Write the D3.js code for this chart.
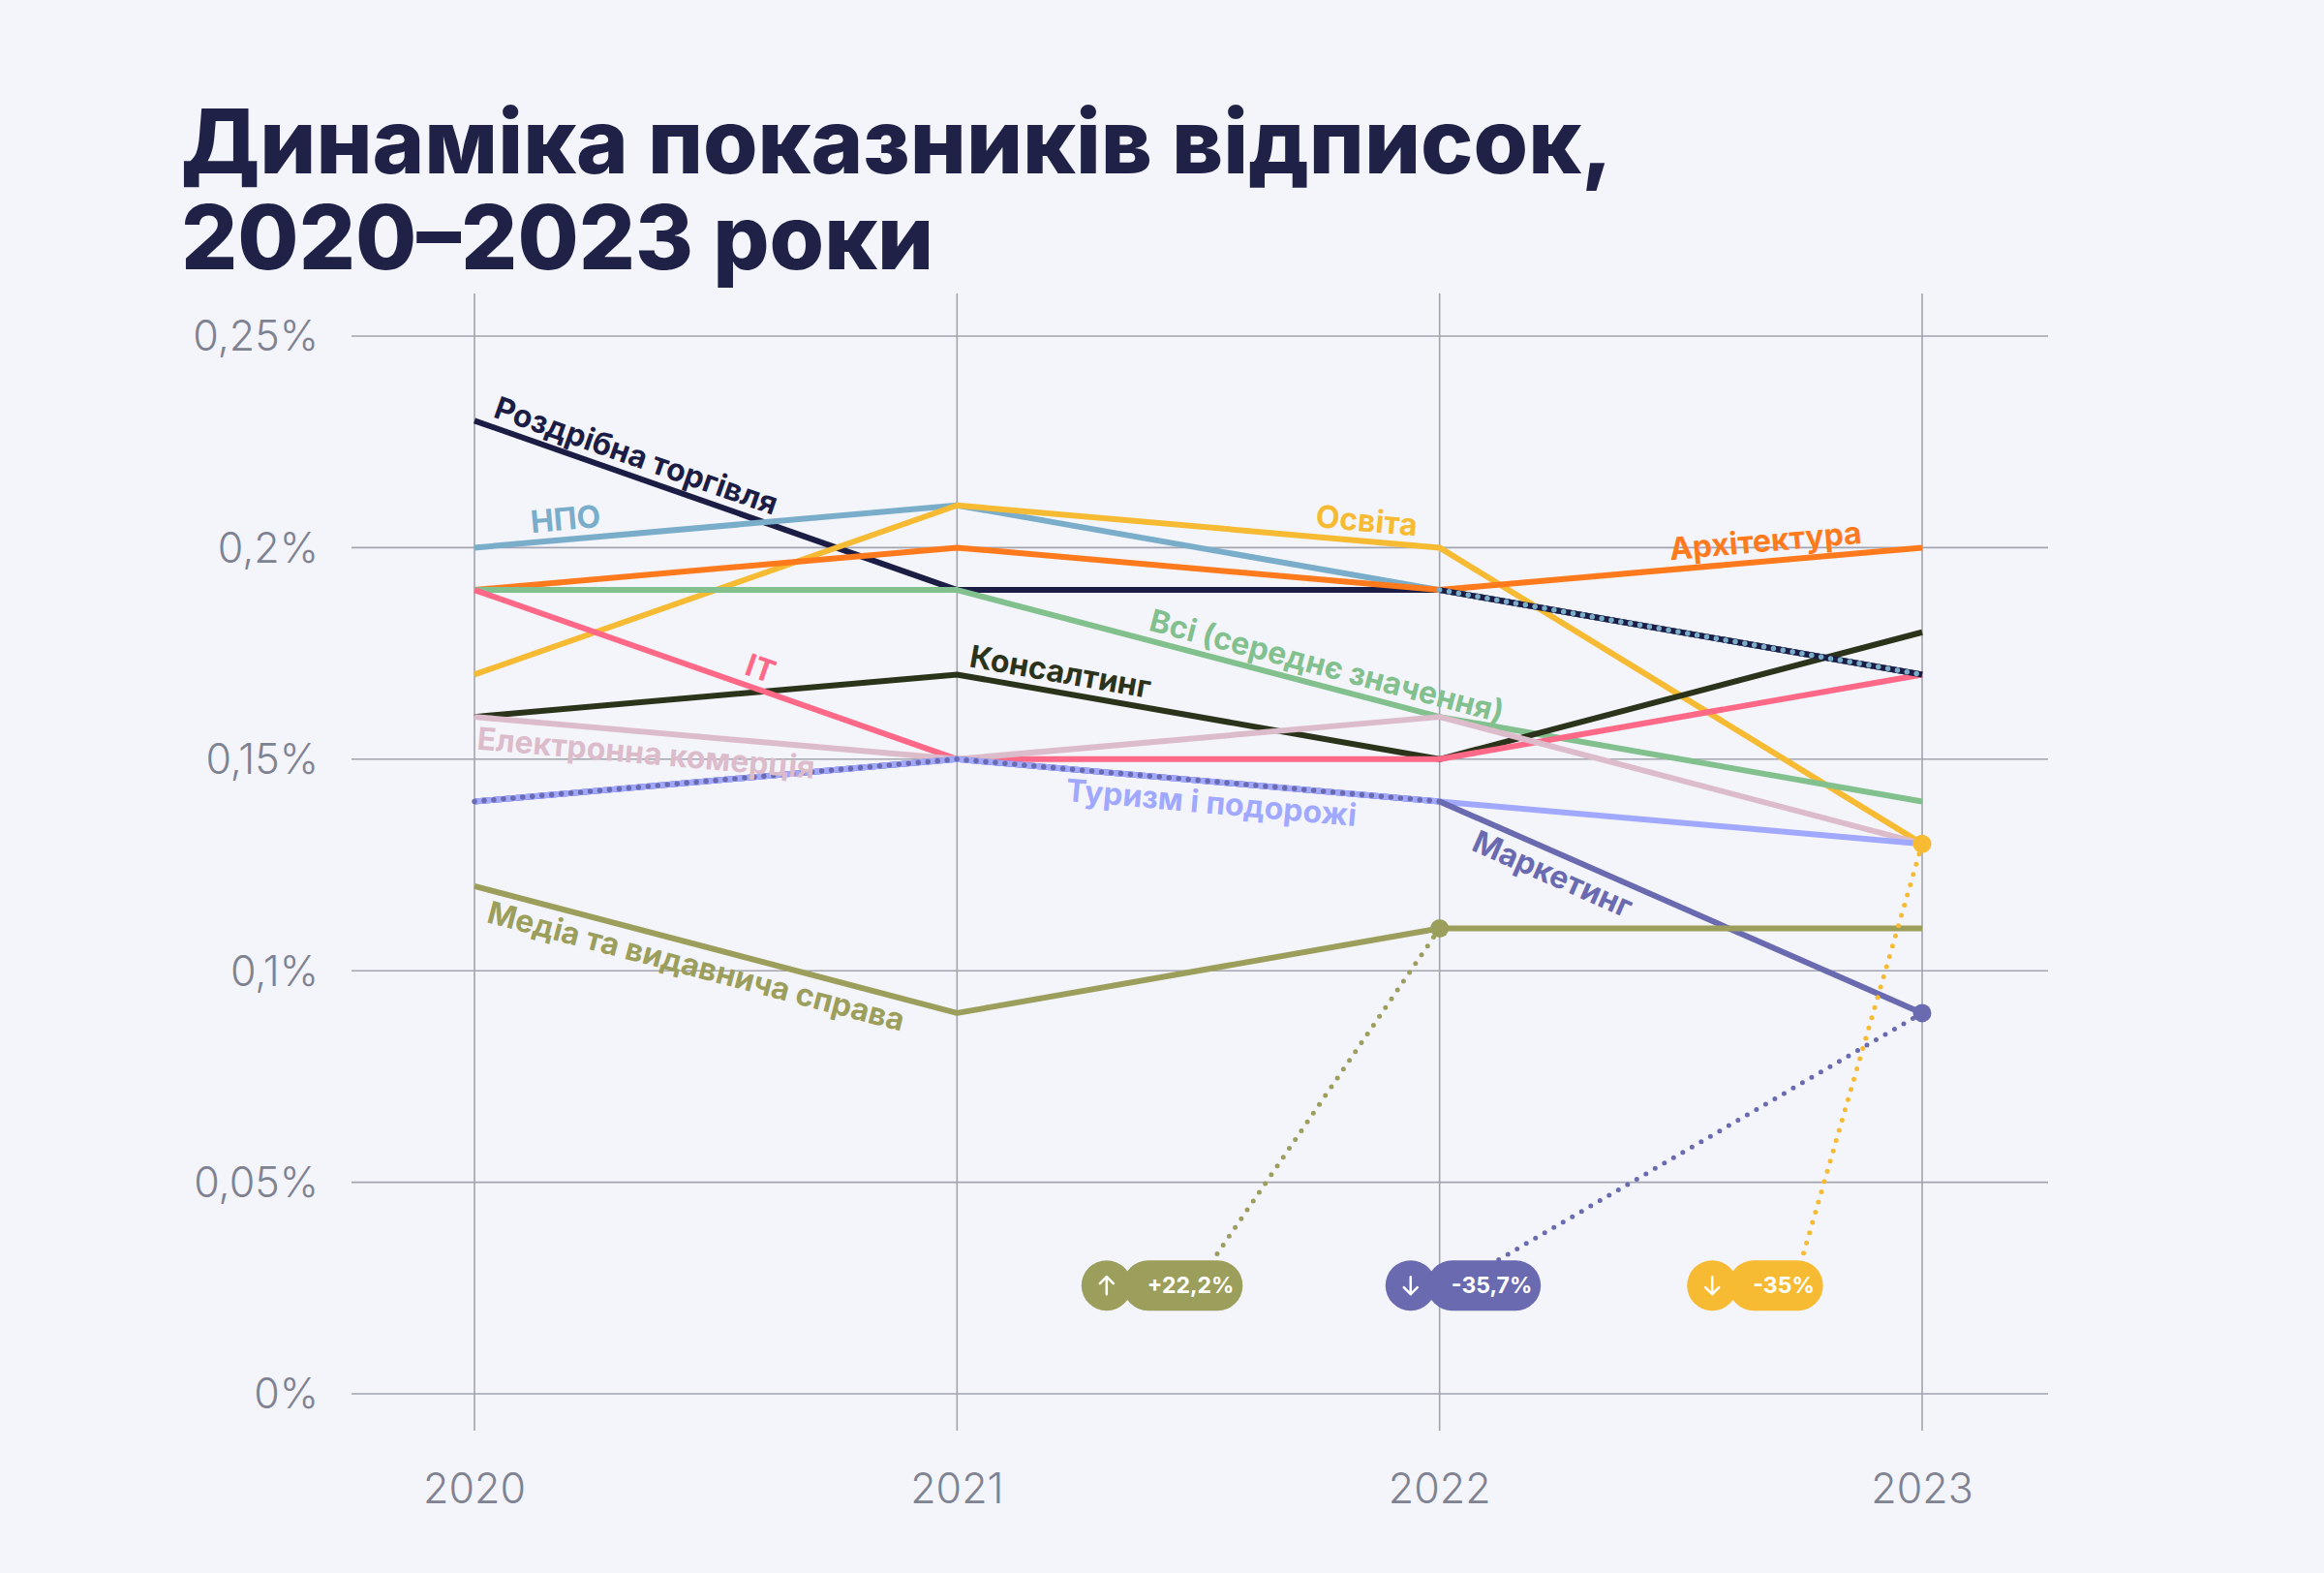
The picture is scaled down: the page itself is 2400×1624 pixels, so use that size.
<!DOCTYPE html>
<html>
<head>
<meta charset="utf-8">
<script src="https://cdn.jsdelivr.net/npm/d3@7"></script>
<style>
  html, body { margin: 0; background: #f4f4fb; }
  svg { display: block; }
</style>
</head>
<body>
<div id="chart"></div>
<script>
var width = 2400,
    height = 1624;

// data
var years = [2020, 2021, 2022, 2023];
var yTicks = [0, 0.05, 0.1, 0.15, 0.2, 0.25];
var yTickLabels = ["0%", "0,05%", "0,1%", "0,15%", "0,2%", "0,25%"];

var names = ["Роздрібна торгівля", "НПО", "Освіта", "Архітектура", "Всі (середнє значення)",
             "Консалтинг", "IT", "Електронна комерція", "Туризм і подорожі", "Маркетинг",
             "Медіа та видавнича справа"];
var retail    = [0.23, 0.19, 0.19, 0.17];
var ngo       = [0.20, 0.21, 0.19, 0.17];
var education = [0.17, 0.21, 0.20, 0.13];
var architect = [0.19, 0.20, 0.19, 0.20];
var average   = [0.19, 0.19, 0.16, 0.14];
var consult   = [0.16, 0.17, 0.15, 0.18];
var it        = [0.19, 0.15, 0.15, 0.17];
var ecommerce = [0.16, 0.15, 0.16, 0.13];
var tourism   = [0.14, 0.15, 0.14, 0.13];
var marketing = [0.14, 0.15, 0.14, 0.09];
var media     = [0.12, 0.09, 0.11, 0.11];
var colors = ["#1c1d45", "#7aadc9", "#f7bb33", "#ff7a1c", "#82c08e",
              "#2b331a", "#ff6886", "#dcbccb", "#a0a8ff", "#6a6ab0", "#9c9f5c"];

// highlighted changes
var changeSeries = ["Медіа та видавнича справа", "Маркетинг", "Освіта"];
var changeYear   = [2022, 2023, 2023];
var changeLabels = ["+22,2%", "-35,7%", "-35%"];
var changeUp     = [true, false, false];

// where series overlap: the "over" one is drawn as dots on top
var overlaps = [
  { under: "Роздрібна торгівля", over: "НПО", from: 2022, to: 2023 },
  { under: "Туризм і подорожі", over: "Маркетинг", from: 2020, to: 2022 }
];

var table = [retail, ngo, education, architect, average, consult, it, ecommerce, tourism, marketing, media]
  .map(function (vals, i) {
    return { name: names[i], color: colors[i], values: vals };
  });
function byName(n) { return table.filter(function (s) { return s.name == n; })[0]; }

// layout
var labelAt   = [2020.03, 2020.12, 2021.74, 2022.48, 2021.39, 2021.02, 2020.55, 2020.01, 2021.23, 2022.09, 2020.04];
var labelSide = ["up", "up", "up", "up", "up", "up", "up", "down", "down", "down", "down"];
var badgeAt   = [2021.31, 2021.94, 2022.565];
var leaderEnd = [2021.53, 2022.12, 2022.75];
var badgeLevel = 0.0256;

var x = d3.scaleLinear().domain([2020, 2023]).range([490, 1985]);
var y = d3.scaleLinear().domain([0, 0.25]).range([1439, 347]);

var svg = d3.select("#chart").append("svg")
  .attr("width", width)
  .attr("height", height);

svg.append("rect").attr("width", width).attr("height", height).attr("fill", "#f4f4fb");

var font = "Inter, 'Noto Sans', sans-serif";

// title
var title = svg.append("text")
  .attr("x", 187)
  .attr("font-family", font)
  .attr("font-weight", 800)
  .attr("font-size", 91.5)
  .attr("fill", "#1f2147");
title.append("tspan").attr("x", 187).attr("y", 179).text("Динаміка показників відписок,");
title.append("tspan").attr("x", 187).attr("y", 278).text("2020–2023 роки");

// grid
var grid = svg.append("g").attr("stroke", "#a2a4ae").attr("stroke-width", 1.6);
grid.selectAll(".h").data(yTicks).join("line")
  .attr("x1", 363).attr("x2", 2115)
  .attr("y1", function (d) { return y(d); })
  .attr("y2", function (d) { return y(d); });
grid.selectAll(".v").data(years).join("line")
  .attr("x1", function (d) { return x(d); })
  .attr("x2", function (d) { return x(d); })
  .attr("y1", y(0.25) - 44)
  .attr("y2", y(0) + 38);

// axis labels
svg.append("g").selectAll("text").data(yTicks).join("text")
  .attr("x", 329)
  .attr("y", function (d) { return y(d); })
  .attr("dy", "0.36em")
  .attr("text-anchor", "end")
  .attr("font-family", font)
  .attr("font-weight", 300)
  .attr("font-size", 43)
  .attr("fill", "#7f8391")
  .text(function (d, i) { return yTickLabels[i]; });

svg.append("g").selectAll("text").data(years).join("text")
  .attr("x", function (d) { return x(d); })
  .attr("y", 1552)
  .attr("text-anchor", "middle")
  .attr("font-family", font)
  .attr("font-weight", 300)
  .attr("font-size", 43)
  .attr("fill", "#7f8391")
  .text(function (d) { return d; });

var line = d3.line()
  .x(function (d) { return x(d[0]); })
  .y(function (d) { return y(d[1]); });

function points(s) {
  return s.values.map(function (v, i) { return [years[i], v]; });
}

// lines
svg.append("g").selectAll("path").data(table).join("path")
  .attr("d", function (s) { return line(points(s)); })
  .attr("fill", "none")
  .attr("stroke", function (s) { return s.color; })
  .attr("stroke-width", 6)
  .attr("stroke-linejoin", "round");

// overlapped segments
overlaps.forEach(function (o) {
  var seg = function (s) {
    return points(s).filter(function (p) { return p[0] >= o.from && p[0] <= o.to; });
  };
  svg.append("path")
    .attr("d", line(seg(byName(o.under))))
    .attr("fill", "none")
    .attr("stroke", byName(o.under).color)
    .attr("stroke-width", 6);
  svg.append("path")
    .attr("d", line(seg(byName(o.over))))
    .attr("fill", "none")
    .attr("stroke", byName(o.over).color)
    .attr("stroke-width", 5.5)
    .attr("stroke-linecap", "round")
    .attr("stroke-dasharray", "0 10");
});

// labels along lines
function valueAt(vals, t) {
  var i = Math.min(Math.floor(t - 2020), 2);
  var f = t - 2020 - i;
  return vals[i] + (vals[i + 1] - vals[i]) * f;
}
function angleAt(vals, t) {
  var i = Math.min(Math.floor(t - 2020), 2);
  var dx = x(years[i + 1]) - x(years[i]);
  var dy = y(vals[i + 1]) - y(vals[i]);
  return Math.atan2(dy, dx) * 180 / Math.PI;
}

svg.append("g").selectAll("text").data(table).join("text")
  .attr("transform", function (s, i) {
    var t = labelAt[i];
    return "translate(" + x(t) + "," + y(valueAt(s.values, t)) + ") rotate(" + angleAt(s.values, t) + ")";
  })
  .attr("y", function (s, i) { return labelSide[i] == "up" ? -10 : 33; })
  .attr("font-family", font)
  .attr("font-weight", 700)
  .attr("font-size", 32)
  .attr("fill", function (s) { return s.color; })
  .text(function (s) { return s.name; });

// change annotations
var notes = svg.append("g");
changeSeries.forEach(function (n, i) {
  var s = byName(n);
  var px = x(changeYear[i]);
  var py = y(s.values[years.indexOf(changeYear[i])]);
  var cx = x(badgeAt[i]);
  var cy = y(badgeLevel);
  var r = 26;

  notes.append("line")
    .attr("x1", px).attr("y1", py)
    .attr("x2", x(leaderEnd[i])).attr("y2", cy - r)
    .attr("stroke", s.color)
    .attr("stroke-width", 5)
    .attr("stroke-linecap", "round")
    .attr("stroke-dasharray", "0 11");

  notes.append("circle")
    .attr("cx", px).attr("cy", py).attr("r", 9.5)
    .attr("fill", s.color);

  var txt = notes.append("text")
    .attr("x", cx + r + 16)
    .attr("y", cy)
    .attr("dy", "0.36em")
    .attr("font-family", font)
    .attr("font-weight", 700)
    .attr("font-size", 23)
    .attr("fill", "#fff")
    .text(changeLabels[i]);
  var tw = txt.node().getComputedTextLength();

  notes.insert("rect", "text")
    .attr("x", cx + r * 0.65)
    .attr("y", cy - r)
    .attr("width", tw + 34)
    .attr("height", r * 2)
    .attr("rx", r)
    .attr("fill", s.color);
  notes.insert("circle", "rect")
    .attr("cx", cx).attr("cy", cy).attr("r", r)
    .attr("fill", s.color);

  var dir = changeUp[i] ? -1 : 1;
  notes.append("path")
    .attr("d", "M" + cx + "," + (cy - 9 * dir) + "L" + cx + "," + (cy + 9 * dir) +
               "M" + (cx - 7) + "," + (cy + 2 * dir) + "L" + cx + "," + (cy + 9 * dir) + "L" + (cx + 7) + "," + (cy + 2 * dir))
    .attr("fill", "none")
    .attr("stroke", "#fff")
    .attr("stroke-width", 2.5)
    .attr("stroke-linecap", "round")
    .attr("stroke-linejoin", "round");
});
</script>
</body>
</html>
